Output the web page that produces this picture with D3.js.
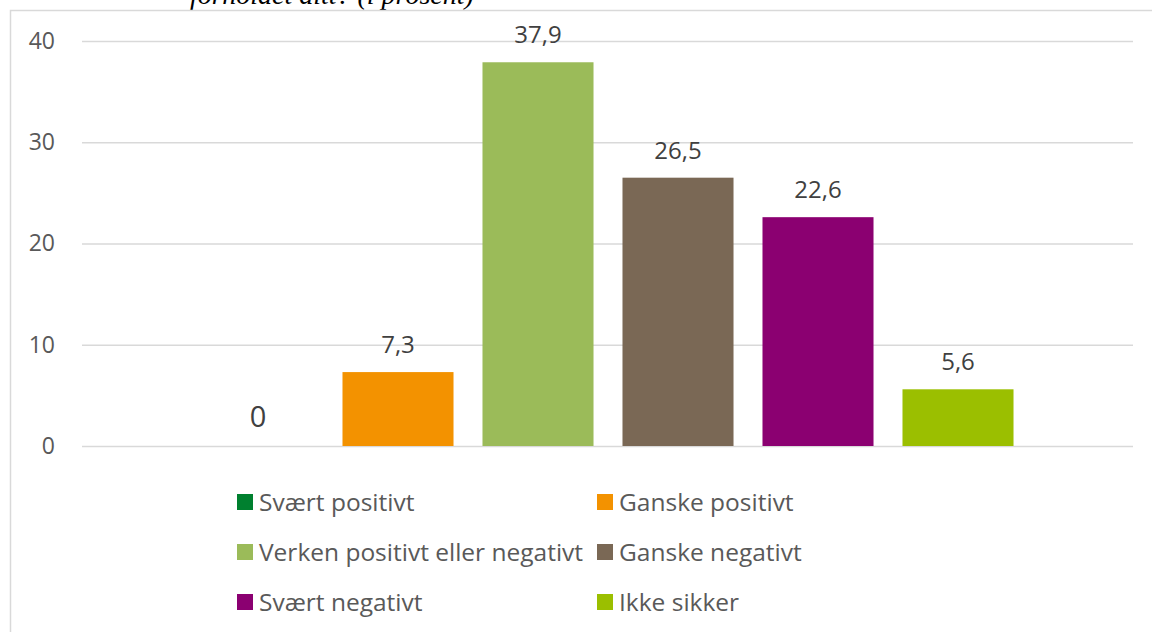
<!DOCTYPE html>
<html>
<head>
<meta charset="utf-8">
<script src="https://cdn.jsdelivr.net/npm/d3@7"></script>
<style>
  html, body { margin: 0; padding: 0; background: #ffffff; }
  svg { display: block; }
  text { font-variant-ligatures: none; }
</style>
</head>
<body>
<svg id="chart" width="1152" height="632"></svg>
<script>
// Answer categories, shares in percent, and bar colours
const categories = [
  "Svært positivt",
  "Ganske positivt",
  "Verken positivt eller negativt",
  "Ganske negativt",
  "Svært negativt",
  "Ikke sikker"
];
const values = [0, 7.3, 37.9, 26.5, 22.6, 5.6];
const labels = ["0", "7,3", "37,9", "26,5", "22,6", "5,6"];
const colors = ["#00802f", "#f39200", "#9bbb59", "#7a6855", "#8b0071", "#9bbf00"];
const yTicks = [0, 10, 20, 30, 40];
const titleTail = "forholdet ditt? (i prosent)";

const svg = d3.select("#chart");
const font = "'Open Sans', 'Noto Sans', sans-serif";

// Caption line above the chart frame, mostly clipped by the top edge
svg.append("text")
  .attr("x", 190).attr("y", 4)
  .attr("font-family", "'Liberation Serif', 'Times New Roman', serif")
  .attr("font-style", "italic")
  .attr("font-size", 28)
  .attr("fill", "#000")
  .text(titleTail);

// Chart frame
svg.append("rect")
  .attr("x", 10.5).attr("y", 10.5)
  .attr("width", 1160).attr("height", 640)
  .attr("fill", "#fff")
  .attr("stroke", "#d9d9d9")
  .attr("stroke-width", 1.5);

const y = d3.scaleLinear().domain([0, 40]).range([446, 41]);
const x = d3.scaleBand()
  .domain(categories)
  .range([188, 1028])
  .paddingInner(0.207)
  .paddingOuter(0.1035);

// Horizontal gridlines and value axis labels
const yAxis = d3.axisLeft(y)
  .tickValues(yTicks)
  .tickSize(-(1133 - 82))
  .tickPadding(27)
  .tickFormat(d3.format("d"));
const gy = svg.append("g").attr("transform", "translate(82,0)").call(yAxis);
gy.select(".domain").remove();
gy.selectAll(".tick line").attr("stroke", "#d9d9d9").attr("stroke-width", 1.5);
gy.selectAll(".tick text")
  .attr("font-family", font)
  .attr("font-size", 23)
  .attr("fill", "#595959");

// Bars
svg.append("g").selectAll("rect")
  .data(categories)
  .join("rect")
  .attr("x", d => x(d))
  .attr("y", (d, i) => y(values[i]))
  .attr("width", x.bandwidth())
  .attr("height", (d, i) => y(0) - y(values[i]))
  .attr("fill", (d, i) => colors[i]);

// Value labels above bars
svg.append("g").selectAll("text")
  .data(categories)
  .join("text")
  .attr("x", d => x(d) + x.bandwidth() / 2)
  .attr("y", (d, i) => y(values[i]) - 19)
  .attr("text-anchor", "middle")
  .attr("font-family", font)
  .attr("font-size", (d, i) => values[i] === 0 ? 29 : 24)
  .attr("fill", "#404040")
  .text((d, i) => labels[i]);

// Legend: two columns, three rows
const legendCols = [237, 597];
const legendRows = [502, 552, 602];
const legend = svg.append("g").selectAll("g")
  .data(categories)
  .join("g")
  .attr("transform", (d, i) => `translate(${legendCols[i % 2]},${legendRows[Math.floor(i / 2)]})`);
legend.append("rect")
  .attr("x", 0).attr("y", -8)
  .attr("width", 16).attr("height", 16)
  .attr("fill", (d, i) => colors[i]);
legend.append("text")
  .attr("x", 22).attr("y", 0)
  .attr("dy", "0.35em")
  .attr("font-family", font)
  .attr("font-size", 24.5)
  .attr("fill", "#595959")
  .text(d => d);
</script>
</body>
</html>
